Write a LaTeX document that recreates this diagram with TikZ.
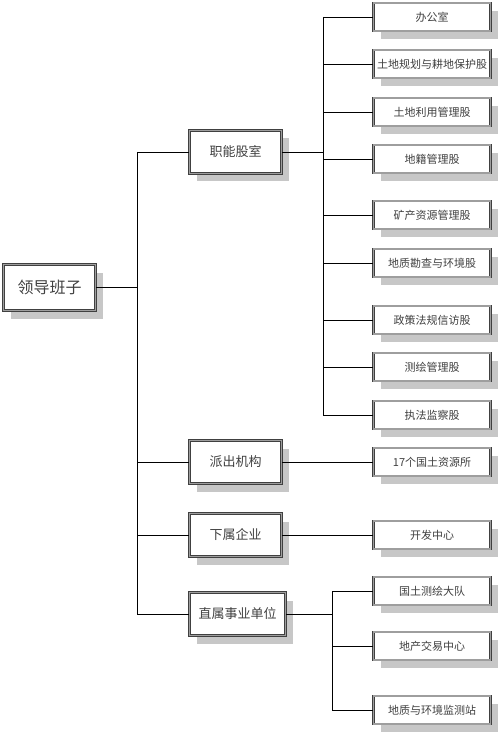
\documentclass[tikz,border=0pt]{standalone}
\usepackage{fontspec}
\newfontfamily\cjk{Noto Sans CJK SC}
\usetikzlibrary{shadows}
\begin{document}
\begin{tikzpicture}[x=1pt, y=-1pt,
    unitbox/.style={draw=black!75, double=black!38, line width=0.7pt, double distance=1.4pt,
        fill=white, text=black!75, inner sep=0pt, font=\cjk,
        drop shadow={shadow xshift=7pt, shadow yshift=-8pt, fill=black!22, opacity=1}},
    topbox/.style={unitbox, minimum width=92pt, minimum height=46pt, font=\cjk\fontsize{16}{16}\selectfont},
    midbox/.style={unitbox, minimum width=92pt, minimum height=43pt, font=\cjk\fontsize{13}{13}\selectfont},
    subbox/.style={unitbox, minimum width=117pt, minimum height=28pt, font=\cjk\fontsize{11}{11}\selectfont},
    link/.style={black, line width=0.9pt}]

    \useasboundingbox[fill=white] (0,0) rectangle (500,735);

    %% Leadership
    \node[topbox] (lead) at (49.5,287.5) {领导班子};

    %% Second level
    \node[midbox] (func) at (235.5,152) {职能股室};
    \node[midbox] (dispatch) at (235.5,462) {派出机构};
    \node[midbox] (firm) at (235.5,535) {下属企业};
    \node[midbox, minimum width=96pt] (direct) at (237.5,614) {直属事业单位};

    %% Functional sections
    \node[subbox] (s1) at (432,17) {办公室};
    \node[subbox] (s2) at (432,64) {土地规划与耕地保护股};
    \node[subbox] (s3) at (432,112) {土地利用管理股};
    \node[subbox] (s4) at (432,159) {地籍管理股};
    \node[subbox] (s5) at (432,215) {矿产资源管理股};
    \node[subbox] (s6) at (432,263) {地质勘查与环境股};
    \node[subbox] (s7) at (432,320) {政策法规信访股};
    \node[subbox] (s8) at (432,367) {测绘管理股};
    \node[subbox] (s9) at (432,415) {执法监察股};

    % Other units
    \node[subbox] (office) at (432,462) {17个国土资源所};
    \node[subbox] (dev) at (432,535) {开发中心};
    \node[subbox] (d1) at (432,591) {国土测绘大队};
    \node[subbox] (d2) at (432,646) {地产交易中心};
    \node[subbox] (d3) at (432,710) {地质与环境监测站};

    %% Connectors
    \coordinate (trunk) at (137,287.5);
    \coordinate (ftrunk) at (323,152);
    \coordinate (dtrunk) at (332,614);

    % Main trunk
    \draw[link] (lead.east) -- (trunk);
    \draw[link] (trunk |- func) -- (trunk |- direct);
    \foreach \n in {func, dispatch, firm, direct}
        \draw[link] (trunk |- \n) -- (\n.west);

    % Functional sections
    \draw[link] (func.east) -- (ftrunk);
    \draw[link] (ftrunk |- s1) -- (ftrunk |- s9);
    \foreach \n in {s1, s2, s3, s4, s5, s6, s7, s8, s9}
        \draw[link] (ftrunk |- \n) -- (\n.west);

    % Single links
    \draw[link] (dispatch.east) -- (office.west);
    \draw[link] (firm.east) -- (dev.west);

    % Direct units
    \draw[link] (direct.east) -- (dtrunk);
    \draw[link] (dtrunk |- d1) -- (dtrunk |- d3);
    \foreach \n in {d1, d2, d3}
        \draw[link] (dtrunk |- \n) -- (\n.west);

\end{tikzpicture}
\end{document}
